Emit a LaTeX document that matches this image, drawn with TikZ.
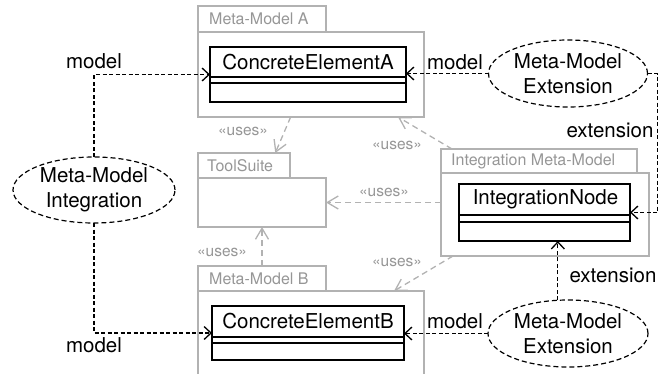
\documentclass[tikz,border=0pt]{standalone}
\usepackage{fontspec}
\setmainfont{TeX Gyre Heros}
\usetikzlibrary{arrows.meta,calc,shapes.geometric}
\definecolor{pkgc}{RGB}{178,178,178}
\definecolor{pkgtxt}{RGB}{150,150,150}
\tikzset{
  pkg/.style={draw=pkgc, line width=1.5pt, rectangle, inner sep=0pt, outer sep=0pt, anchor=north west},
  pkgname/.style={text=pkgtxt, font=\fontsize{16}{18}\selectfont, anchor=west, inner sep=0pt},
  cls/.style={draw=black, line width=1.8pt, rectangle, inner sep=0pt, outer sep=0pt},
  clsline/.style={draw=black, line width=1.8pt},
  clsname/.style={font=\fontsize{20.5}{24}\selectfont, inner sep=0pt},
  usecase/.style={ellipse, draw, dash pattern=on 5pt off 3pt, line width=1.2pt, inner sep=0pt, outer sep=0pt, align=center, font=\fontsize{20.5}{25}\selectfont},
  conn/.style={draw, dash pattern=on 4pt off 2.5pt, line width=1.3pt, -{Straight Barb[length=7pt,width=13pt,line width=1.3pt]}},
  uses/.style={draw=pkgc, dash pattern=on 6pt off 4pt, line width=1.3pt, -{Straight Barb[length=11pt,width=13pt,line width=1.3pt]}},
  lbl/.style={font=\fontsize{20.5}{24}\selectfont, inner sep=0pt},
  useslbl/.style={text=pkgtxt, font=\fontsize{15.5}{18}\selectfont, inner sep=0pt}
}
\begin{document}
\begin{tikzpicture}[x=1pt,y=-1pt]
\useasboundingbox (0,0) rectangle (670,373);
% Package A
\node[pkg, minimum width=128pt, minimum height=26pt] (pAt) at (198,6) {};
\node[pkg, minimum width=226pt, minimum height=85pt] (pAb) at (198,32) {};
\node[pkgname] (pAn) at ($(pAt.west)+(11,0)$) {Meta-Model A};
% ToolSuite
\node[pkg, minimum width=92pt, minimum height=25pt] (tsT) at (198,153) {};
\node[pkg, minimum width=128pt, minimum height=49pt] (tsB) at (198,178) {};
\node[pkgname] (tsN) at ($(tsT.west)+(9,0)$) {ToolSuite};
% Package B
\node[pkg, minimum width=128pt, minimum height=25pt] (pBt) at (198,266) {};
\node[pkg, minimum width=226pt, minimum height=90pt] (pBb) at (198,291) {};
\node[pkgname] (pBn) at ($(pBt.west)+(11,0)$) {Meta-Model B};
% Integration Meta-Model
\node[pkg, minimum width=196pt, minimum height=24pt] (pIt) at (441,149) {};
\node[pkg, minimum width=208pt, minimum height=83pt] (pIb) at (441,173) {};
\node[pkgname] (pIn) at ($(pIt.west)+(10,0)$) {Integration Meta-Model};
% Classes
\node[cls, minimum width=196pt, minimum height=55pt] (cA) at (308,74.5) {};
\node[clsname] (cAn) at ($(cA.north)+(0,15)$) {ConcreteElementA};
\draw[clsline] ($(cA.north west)+(0,30)$) -- ($(cA.north east)+(0,30)$);
\draw[clsline] ($(cA.north west)+(0,36)$) -- ($(cA.north east)+(0,36)$);
\node[cls, minimum width=192pt, minimum height=54pt] (cB) at (308,333) {};
\node[clsname] (cBn) at ($(cB.north)+(0,15.5)$) {ConcreteElementB};
\draw[clsline] ($(cB.north west)+(0,31)$) -- ($(cB.north east)+(0,31)$);
\draw[clsline] ($(cB.north west)+(0,37)$) -- ($(cB.north east)+(0,37)$);
\node[cls, minimum width=171pt, minimum height=57pt] (cI) at (544.5,212.5) {};
\node[clsname] (cIn) at ($(cI.north)+(1,15.5)$) {IntegrationNode};
\draw[clsline] ($(cI.north west)+(0,31)$) -- ($(cI.north east)+(0,31)$);
\draw[clsline] ($(cI.north west)+(0,38)$) -- ($(cI.north east)+(0,38)$);
% Use cases
\node[usecase, minimum width=159pt, minimum height=67pt] (e1) at (568,73.5) {Meta-Model\\Extension};
\node[usecase, minimum width=162pt, minimum height=66pt] (e2) at (94,190) {Meta-Model\\Integration};
\node[usecase, minimum width=160pt, minimum height=67pt] (e3) at (568,333.5) {Meta-Model\\Extension};
% uses connectors
\draw[uses] ($(pAb.south west)!0.41!(pAb.south east)$) -- ($(tsT.north west)!0.84!(tsT.north east)$);
\draw[uses] (pBt.north) -- (tsB.south);
\draw[uses] (pIb.west |- tsB.east) -- (tsB.east);
\draw[uses] ($(pIt.north west)+(11,0)$) -- ($(pAb.south east)+(-26,0)$);
\draw[uses] ($(pIb.south west)+(12,0)$) -- ($(pBb.north east)+(-30,0)$);
\node[useslbl] (u1) at (243,131) {«uses»};
\node[useslbl] (u2) at (397,145) {«uses»};
\node[useslbl] (u3) at (384,192) {«uses»};
\node[useslbl] (u4) at (222,252) {«uses»};
\node[useslbl] (u5) at (397,262) {«uses»};
% model / extension connectors
\draw[conn] (e2.north) |- (cA.west);
\draw[conn] (e2.south) |- (cB.west);
\draw[conn] (e1.west) -- (e1.west -| cA.east);
\draw[conn] (e3.west) -- (e3.west -| cB.east);
\draw[conn] (e1.east) -- ++(10,0) |- (cI.east);
\draw[conn] (e3.107) -- (e3.107 |- cI.south);
\node[lbl] (m1) at (94,61) {model};
\node[lbl] (m2) at (94,345) {model};
\node[lbl] (m3) at (455,62) {model};
\node[lbl] (m4) at (455,321) {model};
\node[lbl] (x1) at (610,130) {extension};
\node[lbl] (x2) at (613,275) {extension};
\end{tikzpicture}
\end{document}
